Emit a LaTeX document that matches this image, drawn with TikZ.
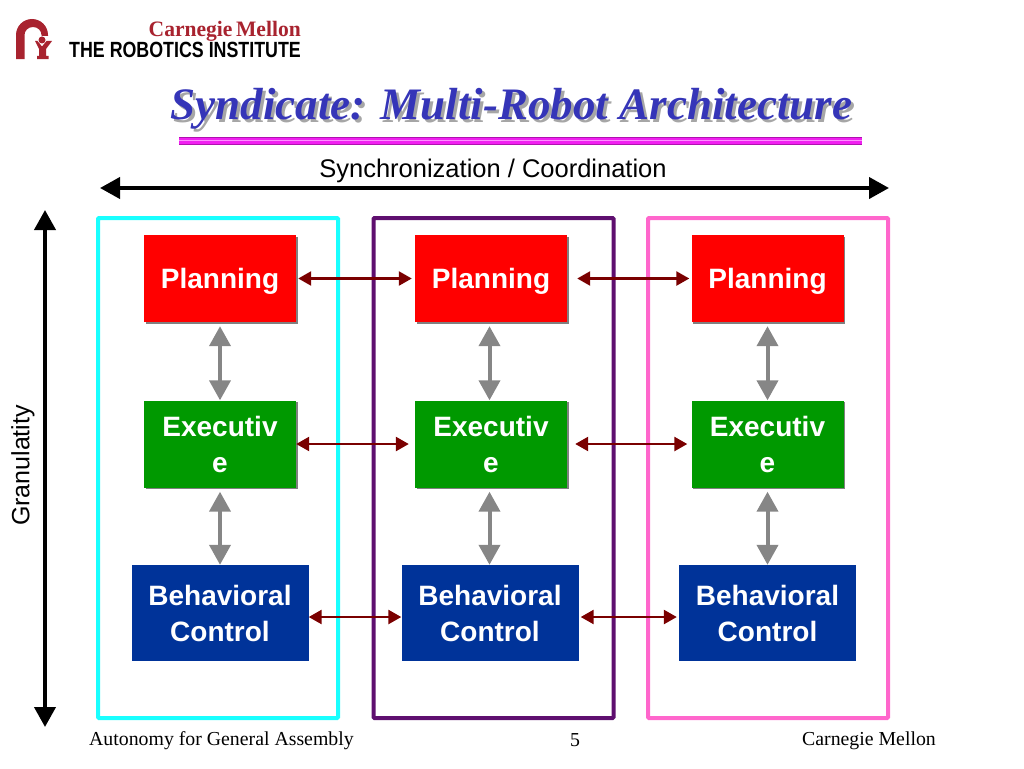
\documentclass[tikz,border=0pt]{standalone}
\usepackage{fontspec}
\setmainfont{Liberation Sans}
\newfontfamily\timesfont{Liberation Serif}
\usetikzlibrary{arrows.meta,shadows}
\definecolor{cmured}{HTML}{A8232F}
\definecolor{titleblue}{HTML}{3535B8}
\definecolor{planred}{HTML}{FF0000}
\definecolor{execgreen}{HTML}{009900}
\definecolor{behavblue}{HTML}{003399}
\definecolor{linkred}{HTML}{7A0000}
\definecolor{rungray}{HTML}{868686}
\definecolor{framecyan}{HTML}{19FFFF}
\definecolor{framepurple}{HTML}{5F0F6F}
\definecolor{framepink}{HTML}{FF66CC}
\definecolor{ruledark}{HTML}{B010B0}
\definecolor{rulemagenta}{HTML}{F020F0}
\definecolor{rulelight}{HTML}{FF90FF}
\newcommand{\titletext}{Syndicate: Multi-Robot Architecture}
\tikzset{
  unitbox/.style={minimum width=152pt,minimum height=87pt,text width=146pt,align=center,
    text=white,inner sep=0pt,font=\fontsize{28}{36}\selectfont\bfseries},
  planbox/.style={unitbox,text height=25pt,text depth=6pt,fill=planred,drop shadow={shadow xshift=1.5pt,shadow yshift=-1.5pt,fill=gray,opacity=1}},
  execbox/.style={unitbox,fill=execgreen,drop shadow={shadow xshift=1.5pt,shadow yshift=-1.5pt,fill=gray,opacity=1}},
  behavbox/.style={unitbox,fill=behavblue,minimum width=177pt,minimum height=96pt,text width=170pt},
  framebox/.style={draw,line width=4pt,rounded corners=1pt,minimum width=240pt,minimum height=500pt,inner sep=0pt},
  linkarrow/.style={color=linkred,line width=2.5pt,{Triangle[length=13pt,width=14pt]}-{Triangle[length=13pt,width=14pt]}},
  rungarrow/.style={color=rungray,line width=4pt,{Triangle[length=20pt,width=21pt]}-{Triangle[length=20pt,width=21pt]}},
  axisarrow/.style={color=black,line width=4pt,{Triangle[length=20pt,width=21pt]}-{Triangle[length=20pt,width=21pt]}},
  footer/.style={font=\timesfont\fontsize{19.8}{22}\selectfont,inner sep=0pt}
}
\begin{document}
\begin{tikzpicture}
  [x=1pt,y=-1pt]
  \useasboundingbox (0,0) rectangle (1024,768);

  % logo
  \fill[cmured] (16,59) -- (16,35) arc[start angle=180,end angle=360,x radius=16,y radius=16]
    -- (48,36) -- (41.5,36) -- (41.5,35) arc[start angle=360,end angle=180,x radius=8.5,y radius=8]
    -- (24.5,59) -- cycle;
  \fill[cmured] (42,40) circle[radius=3.5];
  \fill[cmured] (35,41) -- (37.5,41) -- (42,46.5) -- (46.5,41) -- (52,41) -- (46,49) -- (46,56) -- (48.5,56) -- (48.5,59)
    -- (37,59) -- (37,56) -- (39,56) -- (39,49) -- cycle;
  \node[anchor=base east,inner sep=0pt,xscale=.98,text=cmured,font=\timesfont\fontsize{22}{24}\selectfont\bfseries] (cmu) at (301,36.5) {Carnegie\,Mellon};
  \node[anchor=base east,inner sep=0pt,xscale=.81,font=\fontsize{22}{24}\selectfont\bfseries] (ri) at (301,57.5) {THE ROBOTICS INSTITUTE};

  % title
  \node[text=titleblue,font=\timesfont\fontsize{45}{48}\selectfont\bfseries\itshape,inner sep=0pt] (title) at (511.5,110)
    {\rlap{\kern3pt\raisebox{-3pt}{\textcolor{gray!70}{\titletext}}}\titletext};
  \fill[ruledark] (179,136.5) rectangle (862,145);
  \fill[rulemagenta] (179,138) rectangle (862,143.5);
  \fill[rulelight] (179,140.2) rectangle (862,141.2);

  % axes
  \node[font=\fontsize{25.5}{28}\selectfont,inner sep=0pt] (sync) at (493,170.5) {Synchronization / Coordination};
  \coordinate (syncl) at (100,188);
  \coordinate (syncr) at (889,188);
  \draw[axisarrow] (syncl) -- (syncr);
  \node[rotate=90,font=\fontsize{25}{28}\selectfont,inner sep=0pt] (gran) at (23,465.5) {Granulatity};
  \coordinate (grant) at (45,210);
  \coordinate (granb) at (45,727);
  \draw[axisarrow] (grant) -- (granb);

  % frames
  \node[framebox,draw=framecyan] (f1) at (218,468) {};
  \node[framebox,draw=framepurple] (f2) at (493.5,468) {};
  \node[framebox,draw=framepink] (f3) at (768,468) {};

  % units
  \node[planbox] (p1) at (220,278.5) {Planning};
  \node[planbox] (p2) at (491,278.5) {Planning};
  \node[planbox] (p3) at (767.5,278.5) {Planning};
  \node[execbox] (e1) at (220,444) {Executiv\\e};
  \node[execbox] (e2) at (491,444) {Executiv\\e};
  \node[execbox] (e3) at (767.5,444) {Executiv\\e};
  \node[behavbox] (b1) at (220,613) {Behavioral\\Control};
  \node[behavbox] (b2) at (490,613) {Behavioral\\Control};
  \node[behavbox] (b3) at (767.5,613) {Behavioral\\Control};

  \path[rungarrow]
    (p1) edge[shorten <=4pt] (e1)
    ([xshift=-1.5pt]p2.south) edge[shorten <=4pt] ([xshift=-1.5pt]e2.north)
    (p3) edge[shorten <=4pt] (e3)
    (e1) edge[shorten <=4pt] (b1)
    ([xshift=-1.5pt]e2.south) edge[shorten <=4pt] ([xshift=-.5pt]b2.north)
    (e3) edge[shorten <=4pt] (b3);

  \path[linkarrow]
    (p1) edge[shorten <=2pt,shorten >=3pt] (p2)
    (p2) edge[shorten <=10pt,shorten >=2pt] (p3)
    (e1) edge[shorten >=6pt] (e2)
    (e2) edge[shorten <=8pt,shorten >=4pt] (e3)
    ([yshift=-4pt]b1.east) edge ([yshift=-4pt]b2.west)
    ([yshift=-4pt]b2.east) edge[shorten <=2pt,shorten >=2pt] ([yshift=-4pt]b3.west);

  % footer
  \node[footer,anchor=west] (foot1) at (89,740.5) {Autonomy for General Assembly};
  \node[footer] (foot2) at (575,740.5) {5};
  \node[footer,anchor=east] (foot3) at (936,740.5) {Carnegie Mellon};
\end{tikzpicture}
\end{document}
